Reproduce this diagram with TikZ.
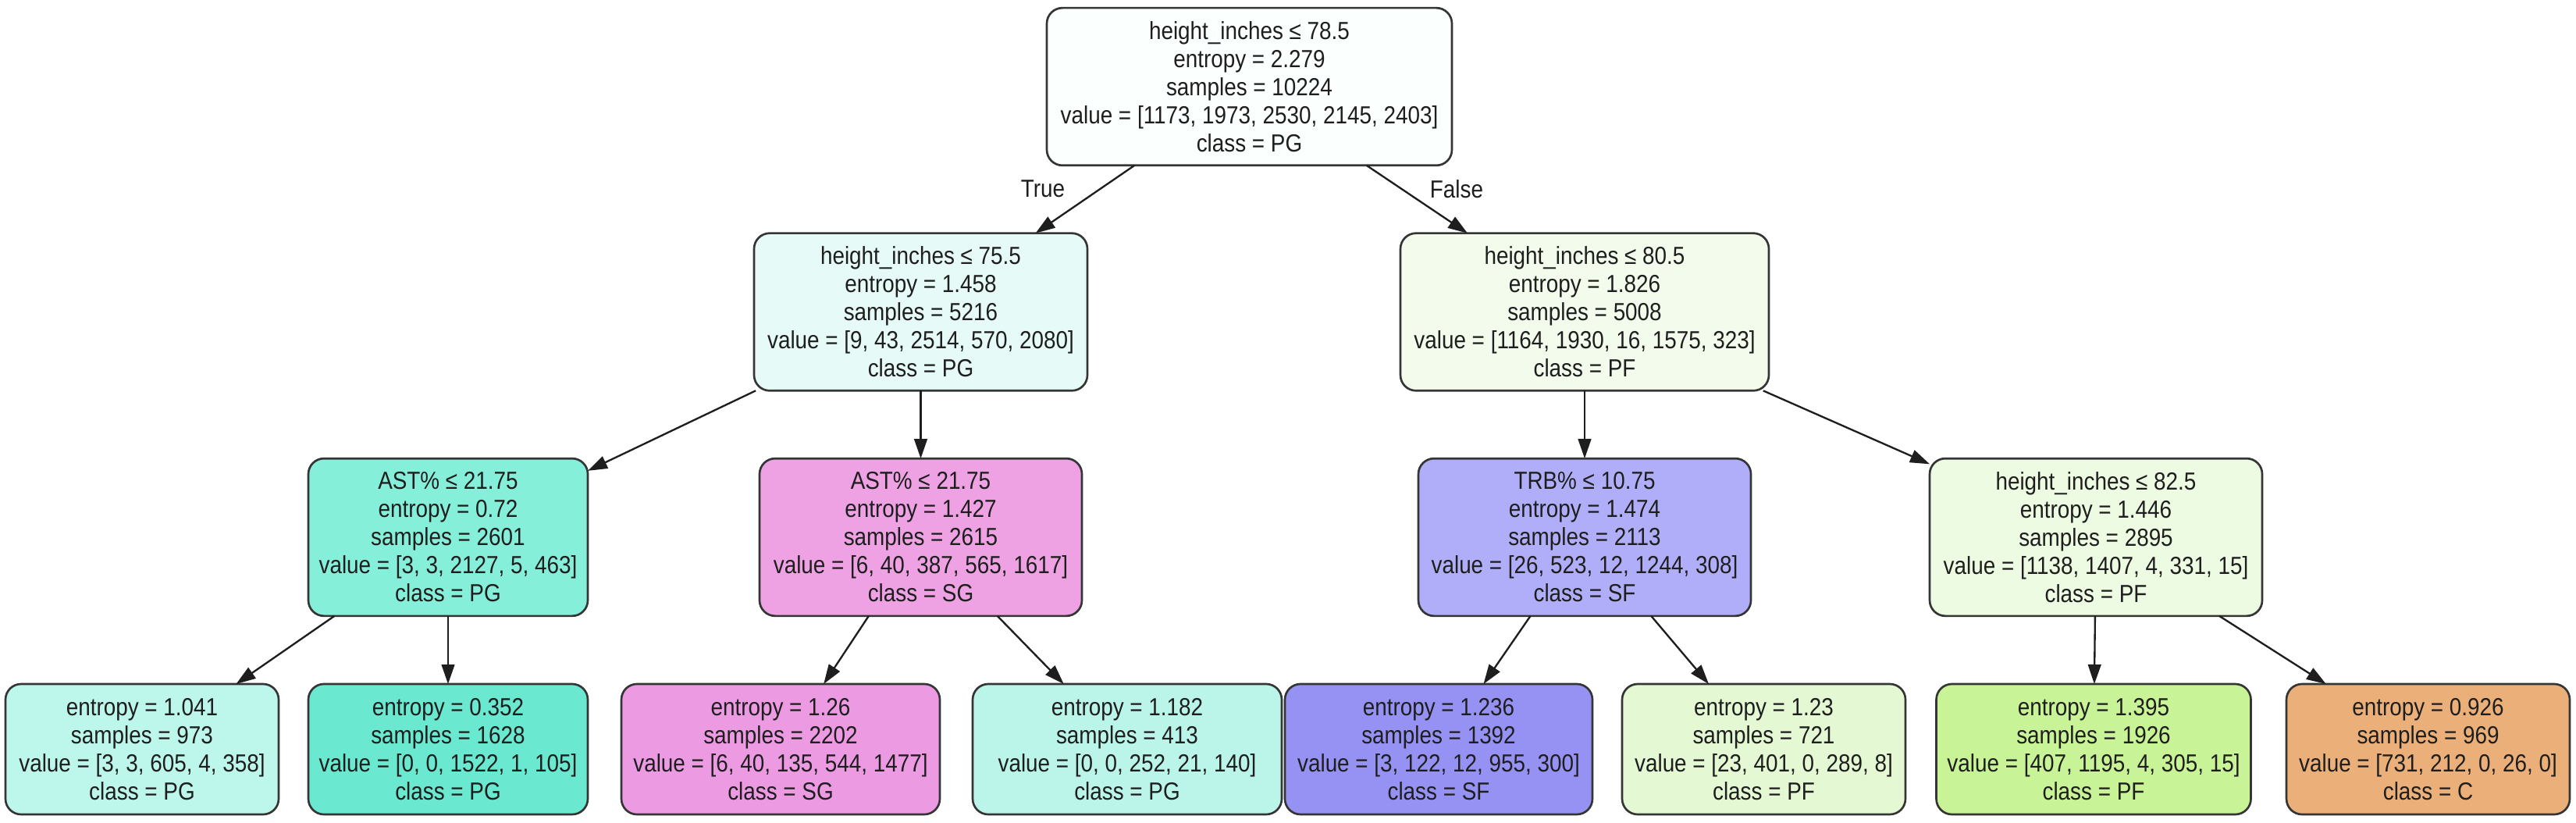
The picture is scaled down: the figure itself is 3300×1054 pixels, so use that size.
\documentclass[tikz,border=0pt]{standalone}
\usepackage{fontspec}
\setmainfont[FakeStretch=0.88]{Liberation Sans}
\usetikzlibrary{arrows.meta}
\definecolor{cRoot}{HTML}{FBFFFE}
\definecolor{cLL}{HTML}{E6FBF7}
\definecolor{cLR}{HTML}{F2FBEC}
\definecolor{cNa}{HTML}{86EFD9}
\definecolor{cNb}{HTML}{EEA2E3}
\definecolor{cNc}{HTML}{B0AEF8}
\definecolor{cNd}{HTML}{EDFBE2}
\definecolor{cLa}{HTML}{BDF6EA}
\definecolor{cLb}{HTML}{6BE8D0}
\definecolor{cLc}{HTML}{EC9BE3}
\definecolor{cLd}{HTML}{BBF5EA}
\definecolor{cLe}{HTML}{9692F3}
\definecolor{cLf}{HTML}{E4F9D3}
\definecolor{cLg}{HTML}{C8F396}
\definecolor{cLh}{HTML}{EBB07A}
\definecolor{ink}{HTML}{1E1E1E}
\tikzset{
  tbox/.style={draw=ink!90, line width=0.8pt, rounded corners=6pt, align=center,
    inner sep=0pt, outer sep=0pt, text=ink,
    font=\fontsize{9.5}{10.8}\selectfont},
  split/.style={tbox, minimum height=60.5pt},
  leaf/.style={tbox, minimum height=50.1pt},
  edge/.style={draw=ink, line width=0.7pt, -{Triangle[length=7.5pt,width=5pt]}},
  elabel/.style={text=ink, font=\fontsize{9.5}{10.8}\selectfont}
}
\begin{document}
\begin{tikzpicture}[x=0.3pt, y=-0.3pt]
\fill[white] (0,0) rectangle (3300,1054);
\useasboundingbox (0,0) rectangle (3300,1054);
% level 0
\node[split, fill=cRoot, minimum width=155.7pt] (root) at (1600.5,111)
  {height\_inches ≤ 78.5\\entropy = 2.279\\samples = 10224\\value = [1173, 1973, 2530, 2145, 2403]\\class = PG};
% level 1
\node[split, fill=cLL, minimum width=128.1pt] (l1a) at (1179.5,399.5)
  {height\_inches ≤ 75.5\\entropy = 1.458\\samples = 5216\\value = [9, 43, 2514, 570, 2080]\\class = PG};
\node[split, fill=cLR, minimum width=141.6pt] (l1b) at (2030,399.5)
  {height\_inches ≤ 80.5\\entropy = 1.826\\samples = 5008\\value = [1164, 1930, 16, 1575, 323]\\class = PF};
% level 2
\node[split, fill=cNa, minimum width=107.4pt] (n1) at (574,688)
  {AST\% ≤ 21.75\\entropy = 0.72\\samples = 2601\\value = [3, 3, 2127, 5, 463]\\class = PG};
\node[split, fill=cNb, minimum width=123.9pt] (n2) at (1179.5,688)
  {AST\% ≤ 21.75\\entropy = 1.427\\samples = 2615\\value = [6, 40, 387, 565, 1617]\\class = SG};
\node[split, fill=cNc, minimum width=127.8pt] (n3) at (2030,688)
  {TRB\% ≤ 10.75\\entropy = 1.474\\samples = 2113\\value = [26, 523, 12, 1244, 308]\\class = SF};
\node[split, fill=cNd, minimum width=127.8pt] (n4) at (2685,688)
  {height\_inches ≤ 82.5\\entropy = 1.446\\samples = 2895\\value = [1138, 1407, 4, 331, 15]\\class = PF};
% leaves
\node[leaf, fill=cLa, minimum width=105pt] (f1) at (182,959.5)
  {entropy = 1.041\\samples = 973\\value = [3, 3, 605, 4, 358]\\class = PG};
\node[leaf, fill=cLb, minimum width=107.4pt] (f2) at (574,959.5)
  {entropy = 0.352\\samples = 1628\\value = [0, 0, 1522, 1, 105]\\class = PG};
\node[leaf, fill=cLc, minimum width=122.4pt] (f3) at (1000,959.5)
  {entropy = 1.26\\samples = 2202\\value = [6, 40, 135, 544, 1477]\\class = SG};
\node[leaf, fill=cLd, minimum width=118.8pt] (f4) at (1444,959.5)
  {entropy = 1.182\\samples = 413\\value = [0, 0, 252, 21, 140]\\class = PG};
\node[leaf, fill=cLe, minimum width=118.2pt] (f5) at (1843,959.5)
  {entropy = 1.236\\samples = 1392\\value = [3, 122, 12, 955, 300]\\class = SF};
\node[leaf, fill=cLf, minimum width=108.9pt] (f6) at (2259.5,959.5)
  {entropy = 1.23\\samples = 721\\value = [23, 401, 0, 289, 8]\\class = PF};
\node[leaf, fill=cLg, minimum width=120.9pt] (f7) at (2682,959.5)
  {entropy = 1.395\\samples = 1926\\value = [407, 1195, 4, 305, 15]\\class = PF};
\node[leaf, fill=cLh, minimum width=108.9pt] (f8) at (3110.5,959.5)
  {entropy = 0.926\\samples = 969\\value = [731, 212, 0, 26, 0]\\class = C};
% edges
\draw[edge] (root) -- (l1a);
\draw[edge] (root) -- (l1b);
\draw[edge] (l1a) -- (n1);
\draw[edge] (l1a) -- (n2);
\draw[edge] (l1b) -- (n3);
\draw[edge] (l1b) -- (n4);
\draw[edge] (n1) -- (f1);
\draw[edge] (n1) -- (f2);
\draw[edge] (n2) -- (f3);
\draw[edge] (n2) -- (f4);
\draw[edge] (n3) -- (f5);
\draw[edge] (n3) -- (f6);
\draw[edge] (n4) -- (f7);
\draw[edge] (n4) -- (f8);
% edge labels
\node[elabel] (tlab) at (1336,242) {True};
\node[elabel] (flab) at (1866,242) {False};
\end{tikzpicture}
\end{document}
